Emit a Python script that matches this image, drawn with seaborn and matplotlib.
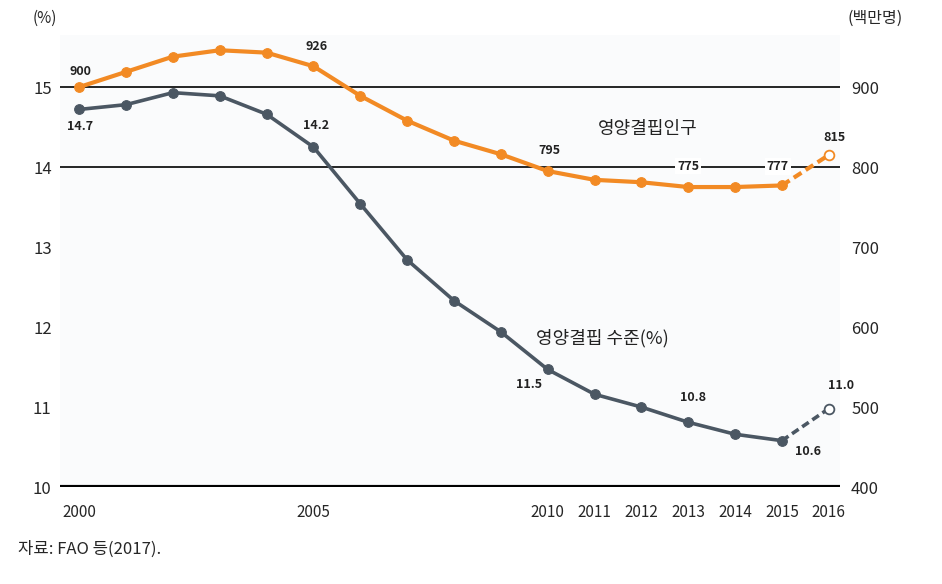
import numpy as np
import pandas as pd
import matplotlib
matplotlib.use('Agg')
import matplotlib.pyplot as plt
import seaborn as sns

# 데이터
years = [2000, 2001, 2002, 2003, 2004, 2005, 2006, 2007, 2008,
         2009, 2010, 2011, 2012, 2013, 2014, 2015, 2016]
rate_pct = [14.72, 14.78, 14.93, 14.89, 14.66, 14.25, 13.54, 12.84, 12.33,
            11.94, 11.47, 11.16, 11.0, 10.81, 10.66, 10.58, 10.98]
people_mil = [900, 919, 938, 946, 943, 926, 889, 858, 833,
              816, 795, 784, 781, 775, 775, 777, 815]
xtick_years = [2000, 2005, 2010, 2011, 2012, 2013, 2014, 2015, 2016]

# 표시할 라벨 (연도, 값 문자열)
rate_labels = {2000: '14.7', 2005: '14.2', 2010: '11.5', 2013: '10.8', 2015: '10.6', 2016: '11.0'}
people_labels = {2000: '900', 2005: '926', 2010: '795', 2013: '775', 2015: '777', 2016: '815'}

df = pd.DataFrame({'year': years, 'rate': rate_pct, 'people': people_mil})
solid = df[df['year'] <= 2015]
dash = df[df['year'] >= 2015]

sns.set_style('white')
plt.rcParams['font.family'] = ['Noto Sans CJK KR', 'DejaVu Sans']

orange = '#f28a24'
gray = '#4b5763'

fig = plt.figure(figsize=(9.42, 5.84), dpi=100)
ax = fig.add_axes([0.0637, 0.166, 0.828, 0.774])
ax2 = ax.twinx()
ax.set_facecolor('#fafbfc')

ax.set_xlim(1999.59, 2016.24)
ax.set_ylim(10, 15.65)
ax2.set_ylim(400, 965)

# 기준선
for yv in [14, 15]:
    ax.axhline(yv, color='black', lw=1.2, zorder=1)
ax.axhline(10, color='black', lw=3, zorder=1)

# 영양결핍 수준(%)
sns.lineplot(data=solid, x='year', y='rate', ax=ax, color=gray, lw=2.6,
             marker='o', markersize=7, markeredgecolor=gray, zorder=3)
sns.lineplot(data=dash, x='year', y='rate', ax=ax, color=gray, lw=2.6,
             linestyle=(0, (2.2, 1.2)), zorder=3)
ax.plot([2016], [rate_pct[-1]], marker='o', markersize=7, mfc='white',
        mec=gray, mew=1.3, zorder=4)

# 영양결핍인구
sns.lineplot(data=solid, x='year', y='people', ax=ax2, color=orange, lw=3,
             marker='o', markersize=7, markeredgecolor=orange, zorder=3)
sns.lineplot(data=dash, x='year', y='people', ax=ax2, color=orange, lw=3,
             linestyle=(0, (2.2, 1.2)), zorder=3)
ax2.plot([2016], [people_mil[-1]], marker='o', markersize=7, mfc='white',
         mec=orange, mew=1.3, zorder=4)

# 데이터 라벨
lab_font = dict(fontsize=9, fontweight='bold', color='#222222', ha='center', va='center')
rate_off = {2000: (1, -17), 2005: (3, 22), 2010: (-19, -15), 2013: (5, 25),
            2015: (26, -11), 2016: (12, 23)}
people_off = {2000: (1, 16), 2005: (3, 20), 2010: (2, 21), 2013: (0, 21),
              2015: (-4, 19), 2016: (6, 18)}
for yr, txt in rate_labels.items():
    v = rate_pct[years.index(yr)]
    ax.annotate(txt, (yr, v), xytext=rate_off[yr], textcoords='offset pixels', **lab_font)
for yr, txt in people_labels.items():
    v = people_mil[years.index(yr)]
    bbox = None
    if yr in (2013, 2015):
        bbox = dict(boxstyle='square,pad=0.15', fc='white', ec='none')
    ax2.annotate(txt, (yr, v), xytext=people_off[yr], textcoords='offset pixels',
                 bbox=bbox, zorder=5, **lab_font)

# 시리즈 이름
ax.text(2012.14, 14.475, '영양결핍인구', fontsize=13, ha='center', va='center', color='#222222')
ax.text(2011.16, 11.86, '영양결핍 수준(%)', fontsize=13, ha='center', va='center', color='#222222')

# 축
ax.set_xticks(xtick_years)
ax.set_xticklabels([str(y) for y in xtick_years], fontsize=11)
ax.set_yticks([10, 11, 12, 13, 14, 15])
ax.tick_params(axis='y', labelsize=12, length=0, pad=6)
ax.tick_params(axis='x', length=0, pad=12)
ax2.set_yticks([400, 500, 600, 700, 800, 900])
ax2.tick_params(axis='y', labelsize=12, length=0, pad=8)
ax.set_xlabel('')
ax.set_ylabel('')
ax2.set_ylabel('')
for a in (ax, ax2):
    for s in a.spines.values():
        s.set_visible(False)

fig.text(45 / 942, 1 - 18 / 584, '(%)', fontsize=11, ha='center', va='center')
fig.text(875 / 942, 1 - 18 / 584, '(백만명)', fontsize=11.5, ha='center', va='center')
fig.text(18 / 942, 1 - 549 / 584, '자료: FAO 등(2017).', fontsize=12, ha='left', va='center')

fig.savefig('out.png', dpi=100, facecolor='white')
